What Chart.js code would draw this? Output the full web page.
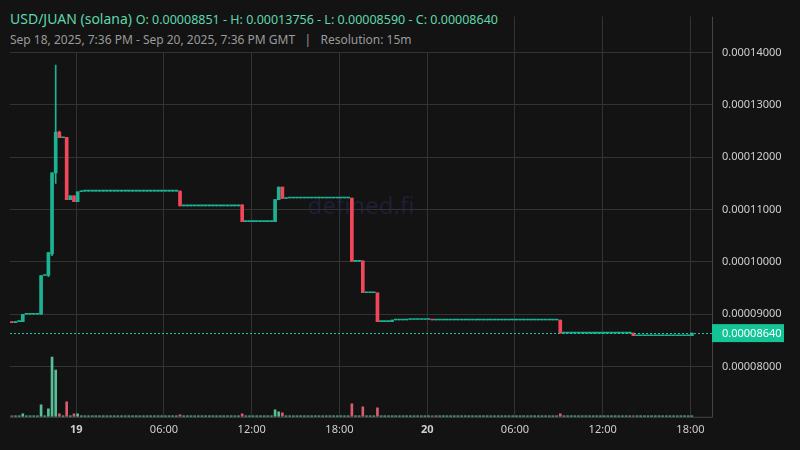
<!DOCTYPE html>
<html><head><meta charset="utf-8">
<script src="https://cdn.jsdelivr.net/npm/chart.js@4.4.1/dist/chart.umd.min.js"></script>
<style>
html,body{margin:0;padding:0;background:#131313;}
#wrap{position:relative;width:800px;height:450px;}
#hdr{position:absolute;left:0;top:0;width:498px;height:52px;background:#131313;font-family:"Noto Sans",sans-serif;z-index:2;}
#t1{position:absolute;left:10px;top:9px;font-size:14px;color:#5fd6ad;white-space:nowrap;}
#t1 span{font-size:12.5px;}
#t2{position:absolute;left:10px;top:31px;font-size:12px;color:#9a9a9a;white-space:nowrap;}
canvas{position:absolute;left:0;top:0;}
</style></head>
<body><div id="wrap">
<div id="hdr"><div id="t1">USD/JUAN (solana) <span>O: 0.00008851 - H: 0.00013756 - L: 0.00008590 - C: 0.00008640</span></div>
<div id="t2">Sep 18, 2025, 7:36 PM - Sep 20, 2025, 7:36 PM GMT &nbsp; | &nbsp; Resolution: 15m</div></div>
<canvas id="c" width="800" height="450"></canvas></div>
<script>
const candleCount = 187;
const keyIdx = [0,1,3,8,10,11,12,13,15,16,17,18,19,46,63,72,73,74,75,93,96,100,104,108,115,150,170,186];
const keyO = [0.00008851,0.0000884,0.0000886,0.0000900,0.0000974,0.0001015,0.0001170,0.0001248,0.0001238,0.0001119,0.0001126,0.0001115,0.0001134,0.0001135,0.0001109,0.0001077,0.0001119,0.0001143,0.0001121,0.0001122,0.0001002,0.0000941,0.0000886,0.0000889,0.0000890,0.0000889,0.0000864,0.0000859];
const keyC = [0.0000884,0.0000886,0.0000900,0.0000974,0.0001018,0.0001170,0.0001248,0.0001237,0.0001119,0.0001126,0.0001115,0.0001134,0.0001135,0.0001107,0.0001077,0.0001119,0.0001143,0.0001121,0.0001122,0.0001001,0.0000941,0.0000886,0.0000889,0.0000890,0.0000889,0.0000864,0.0000859,0.0000864];
const keyH = {12:0.00013756,13:0.0001250};
const keyL = {10:0.0000972,11:0.0001012,12:0.0001150};
const volIdx = [3,8,10,11,12,13,15,17,18,46,63,72,73,74,93,96,100,150];
const volVal = [3,12,8,60,47,3,15,3,3,2,3,7,5,4,13,10,9,3];
const tickIdx = [17.6,41.6,65.6,89.6,113.6,137.6,161.6,185.6];
const tickLabels = ["19","06:00","12:00","18:00","20","06:00","12:00","18:00"];
const lastPrice = 0.0000864;

const GREEN='#1bb394', RED='#f0475a', VG='rgba(95,211,165,0.9)', VR='rgba(240,100,120,0.9)';
const body=[], wick=[], vol=[], bc=[], vc=[];
let prev = keyO[0];
for(let i=0;i<candleCount;i++){
  const k = keyIdx.indexOf(i);
  let o,c,h,l;
  if(k>=0){o=keyO[k];c=keyC[k];}else{o=prev;c=prev;}
  h = keyH[i]!==undefined?keyH[i]:Math.max(o,c);
  l = keyL[i]!==undefined?keyL[i]:Math.min(o,c);
  prev=c;
  body.push({x:i,y:[o,c]}); wick.push({x:i,y:[l,h]});
  const up = c>=o;
  bc.push(up?GREEN:RED);
  const vk = volIdx.indexOf(i);
  vol.push({x:i,y:vk>=0?volVal[vk]:1}); vc.push(up?VG:VR);
}
const overlay={id:'ov',
 beforeDatasetsDraw(ch){const ctx=ch.ctx,a=ch.chartArea;ctx.save();
  ctx.font='24px "Noto Sans"';ctx.fillStyle='rgba(40,40,80,0.55)';ctx.textAlign='center';ctx.textBaseline='middle';
  ctx.fillText('defined.fi',(a.left+a.right)/2,207);ctx.restore();},
 afterDatasetsDraw(ch){const ctx=ch.ctx,a=ch.chartArea,y=ch.scales.y.getPixelForValue(lastPrice);
  ctx.save();ctx.strokeStyle='#1bc49a';ctx.lineWidth=1;ctx.setLineDash([2,2]);
  ctx.beginPath();ctx.moveTo(a.left,Math.round(y)+0.5);ctx.lineTo(a.right,Math.round(y)+0.5);ctx.stroke();
  ctx.setLineDash([]);ctx.strokeStyle='#444';ctx.beginPath();ctx.moveTo(a.right+0.5,a.top);ctx.lineTo(a.right+0.5,a.bottom+0.5);ctx.lineTo(a.left,a.bottom+0.5);ctx.stroke();
  ctx.fillStyle='#12c496';ctx.fillRect(a.right,y-9,72,18);
  ctx.fillStyle='#fff';ctx.font='11px "Noto Sans"';ctx.textBaseline='middle';ctx.textAlign='left';
  ctx.fillText(lastPrice.toFixed(8),a.right+10,y+0.5);ctx.restore();}
};
new Chart(document.getElementById('c'),{
 type:'bar',
 data:{datasets:[
  {data:wick,backgroundColor:bc,barThickness:1,grouped:false,yAxisID:'y',order:2},
  {data:body,backgroundColor:bc,barThickness:3,minBarLength:1,grouped:false,yAxisID:'y',order:1},
  {data:vol,backgroundColor:vc,barThickness:2,grouped:false,yAxisID:'v',order:3}
 ]},
 options:{responsive:false,animation:false,
  layout:{padding:{left:10,top:10,right:0,bottom:8}},
  plugins:{legend:{display:false},tooltip:{enabled:false}},
  scales:{
   x:{type:'linear',min:-0.5,max:191.5,offset:false,
    afterBuildTicks(s){s.ticks=tickIdx.map(v=>({value:v}));},
    grid:{color:'#333',drawTicks:false,offset:false},border:{display:false},
    ticks:{color:'#cfcfcf',padding:6,maxRotation:0,autoSkip:false,
     font:(c)=>({family:'Noto Sans',size:11,weight:(c.index===0||c.index===4)?'bold':'normal'}),
     callback:(v,i)=>tickLabels[i]}},
   y:{position:'right',min:0.00007042,max:0.00014684,
    afterBuildTicks(s){s.ticks=[8,9,10,11,12,13,14].map(v=>({value:v*1e-5}));},
    afterFit(s){s.width=88;},
    grid:{color:'#333',drawTicks:false},border:{display:false},
    ticks:{color:'#cfcfcf',padding:10,font:{family:'Noto Sans',size:11},callback:v=>Number(v).toFixed(8)}},
   v:{display:false,min:0,max:402}
  }},
 plugins:[overlay]
});
</script></body></html>
